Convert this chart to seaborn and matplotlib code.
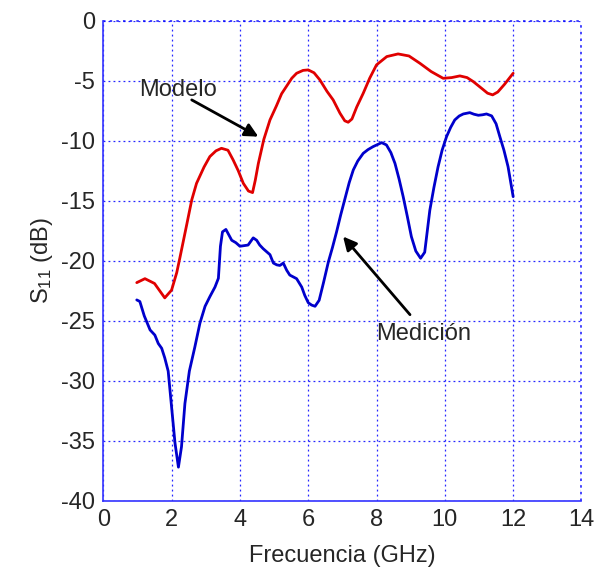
import numpy as np
import pandas as pd
import matplotlib
matplotlib.use("Agg")
import matplotlib.pyplot as plt
import seaborn as sns

# Modelo (red)
modelo_f = [0.98, 1.22, 1.50, 1.80, 2.00, 2.15, 2.24, 2.45, 2.59, 2.73, 2.95, 3.12, 3.30, 3.46,
            3.65, 3.80, 3.95, 4.10, 4.25, 4.37, 4.45, 4.54, 4.70, 4.88, 5.07, 5.22, 5.37, 5.52,
            5.66, 5.85, 6.00, 6.17, 6.34, 6.55, 6.73, 6.93, 7.07, 7.17, 7.28, 7.42, 7.61, 7.80,
            8.00, 8.30, 8.63, 8.95, 9.27, 9.60, 9.95, 10.20, 10.44, 10.65, 10.83, 11.10, 11.25,
            11.40, 11.55, 11.75, 12.00]
modelo_s = [-21.83, -21.5, -21.9, -23.1, -22.45, -21.0, -19.8, -16.9, -14.94, -13.56, -12.2, -11.33, -10.85, -10.64,
            -10.8, -11.6, -12.5, -13.56, -14.2, -14.33, -13.3, -11.9, -9.9, -8.28, -7.10, -6.1, -5.45, -4.8,
            -4.39, -4.15, -4.11, -4.35, -4.94, -5.9, -6.61, -7.72, -8.35, -8.47, -8.2, -7.2, -6.06, -4.8,
            -3.69, -3.0, -2.78, -2.95, -3.56, -4.25, -4.81, -4.75, -4.61, -4.75, -5.08, -5.7, -6.05,
            -6.19, -5.95, -5.3, -4.39]

# Medicion (blue)
medicion_f = [0.98, 1.07, 1.20, 1.37, 1.51, 1.61, 1.71, 1.80, 1.90, 2.00, 2.10, 2.20, 2.29, 2.39,
              2.52, 2.68, 2.83, 2.98, 3.12, 3.27, 3.37, 3.43, 3.49, 3.59, 3.76, 3.88, 4.00, 4.12,
              4.24, 4.39, 4.49, 4.58, 4.68, 4.80, 4.88, 4.98, 5.08, 5.17, 5.27, 5.37, 5.46, 5.56,
              5.66, 5.81, 5.90, 6.00, 6.10, 6.20, 6.32, 6.45, 6.59, 6.71, 6.83, 6.95, 7.07, 7.20,
              7.32, 7.45, 7.61, 7.75, 7.90, 8.05, 8.15, 8.29, 8.42, 8.54, 8.66, 8.78, 8.90, 9.02,
              9.15, 9.29, 9.41, 9.56, 9.68, 9.80, 9.92, 10.05, 10.17, 10.29, 10.42, 10.54, 10.73,
              10.85, 10.98, 11.10, 11.22, 11.37, 11.50, 11.61, 11.73, 11.85, 12.00]
medicion_s = [-23.27, -23.4, -24.6, -25.77, -26.2, -26.9, -27.3, -28.1, -29.2, -32.2, -35.2, -37.2, -35.5, -31.9,
              -29.2, -27.2, -25.2, -23.8, -23.0, -22.2, -21.47, -18.8, -17.6, -17.4, -18.3, -18.5, -18.8, -18.75,
              -18.7, -18.1, -18.3, -18.7, -19.0, -19.3, -19.5, -20.2, -20.35, -20.4, -20.2, -20.8, -21.2, -21.35,
              -21.5, -22.2, -22.9, -23.5, -23.7, -23.8, -23.3, -21.8, -20.1, -18.9, -17.6, -16.2, -14.9, -13.5,
              -12.44, -11.7, -11.06, -10.75, -10.5, -10.3, -10.17, -10.36, -11.0, -11.9, -13.2, -14.67, -16.3, -18.0,
              -19.2, -19.8, -19.3, -15.8, -13.9, -12.2, -10.8, -9.67, -8.9, -8.28, -7.95, -7.78, -7.67,
              -7.8, -7.89, -7.85, -7.78, -7.94, -8.6, -9.67, -10.8, -12.17, -14.67]

x_ticks = [0, 2, 4, 6, 8, 10, 12, 14]
y_ticks = [0, -5, -10, -15, -20, -25, -30, -35, -40]

sns.set_style("white")
plt.rcParams['font.family'] = ['Liberation Sans', 'DejaVu Sans']
plt.rcParams['mathtext.fontset'] = 'custom'
plt.rcParams['mathtext.rm'] = 'Liberation Sans'
plt.rcParams['mathtext.it'] = 'Liberation Sans'

df_m = pd.DataFrame({"f": modelo_f, "s": modelo_s})
df_d = pd.DataFrame({"f": medicion_f, "s": medicion_s})

fig = plt.figure(figsize=(5.97, 5.71), dpi=100)
ax = fig.add_axes([0.173, 0.123, 0.801, 0.841])

sns.lineplot(data=df_m, x="f", y="s", ax=ax, color="#e00000", linewidth=2.0, sort=False)
sns.lineplot(data=df_d, x="f", y="s", ax=ax, color="#0000cc", linewidth=2.0, sort=False)

ax.set_xlim(0, 14)
ax.set_ylim(-40, 0)
ax.set_xticks(x_ticks)
ax.set_yticks(y_ticks)
ax.set_xticklabels([str(t) for t in x_ticks], fontsize=17)
ax.set_yticklabels([str(t) for t in y_ticks], fontsize=17)
ax.tick_params(axis='both', length=0, pad=6)

ax.grid(True, color="#0000ff", linestyle=(0, (1.5, 2.5)), linewidth=0.9, alpha=0.85)
ax.set_axisbelow(True)
for s in ["top", "right"]:
    ax.spines[s].set_visible(False)
for s in ["left", "bottom"]:
    ax.spines[s].set_color("#3333ff")
    ax.spines[s].set_linewidth(1.2)
ax.axhline(0, color="#0000ff", linestyle=(0, (1.5, 2.5)), linewidth=1.2, alpha=0.85, clip_on=False)
ax.axvline(14, color="#0000ff", linestyle=(0, (1.5, 2.5)), linewidth=1.2, alpha=0.85, clip_on=False)

ax.set_xlabel("Frecuencia (GHz)", fontsize=17, labelpad=10)
ax.set_ylabel(r"S$_{11}$ (dB)", fontsize=17, labelpad=4)

ax.text(2.19, -5.78, "Modelo", fontsize=17, ha="center", va="center")
ax.annotate("", xy=(4.54, -9.67), xytext=(2.59, -6.61),
            arrowprops=dict(arrowstyle="-|>", color="black", lw=2, mutation_scale=20,
                            shrinkA=0, shrinkB=0))
ax.text(9.38, -26.1, "Medición", fontsize=17, ha="center", va="center")
ax.annotate("", xy=(7.02, -17.99), xytext=(8.98, -24.5),
            arrowprops=dict(arrowstyle="-|>", color="black", lw=2, mutation_scale=20,
                            shrinkA=0, shrinkB=0))

fig.savefig("out.png", dpi=100)
